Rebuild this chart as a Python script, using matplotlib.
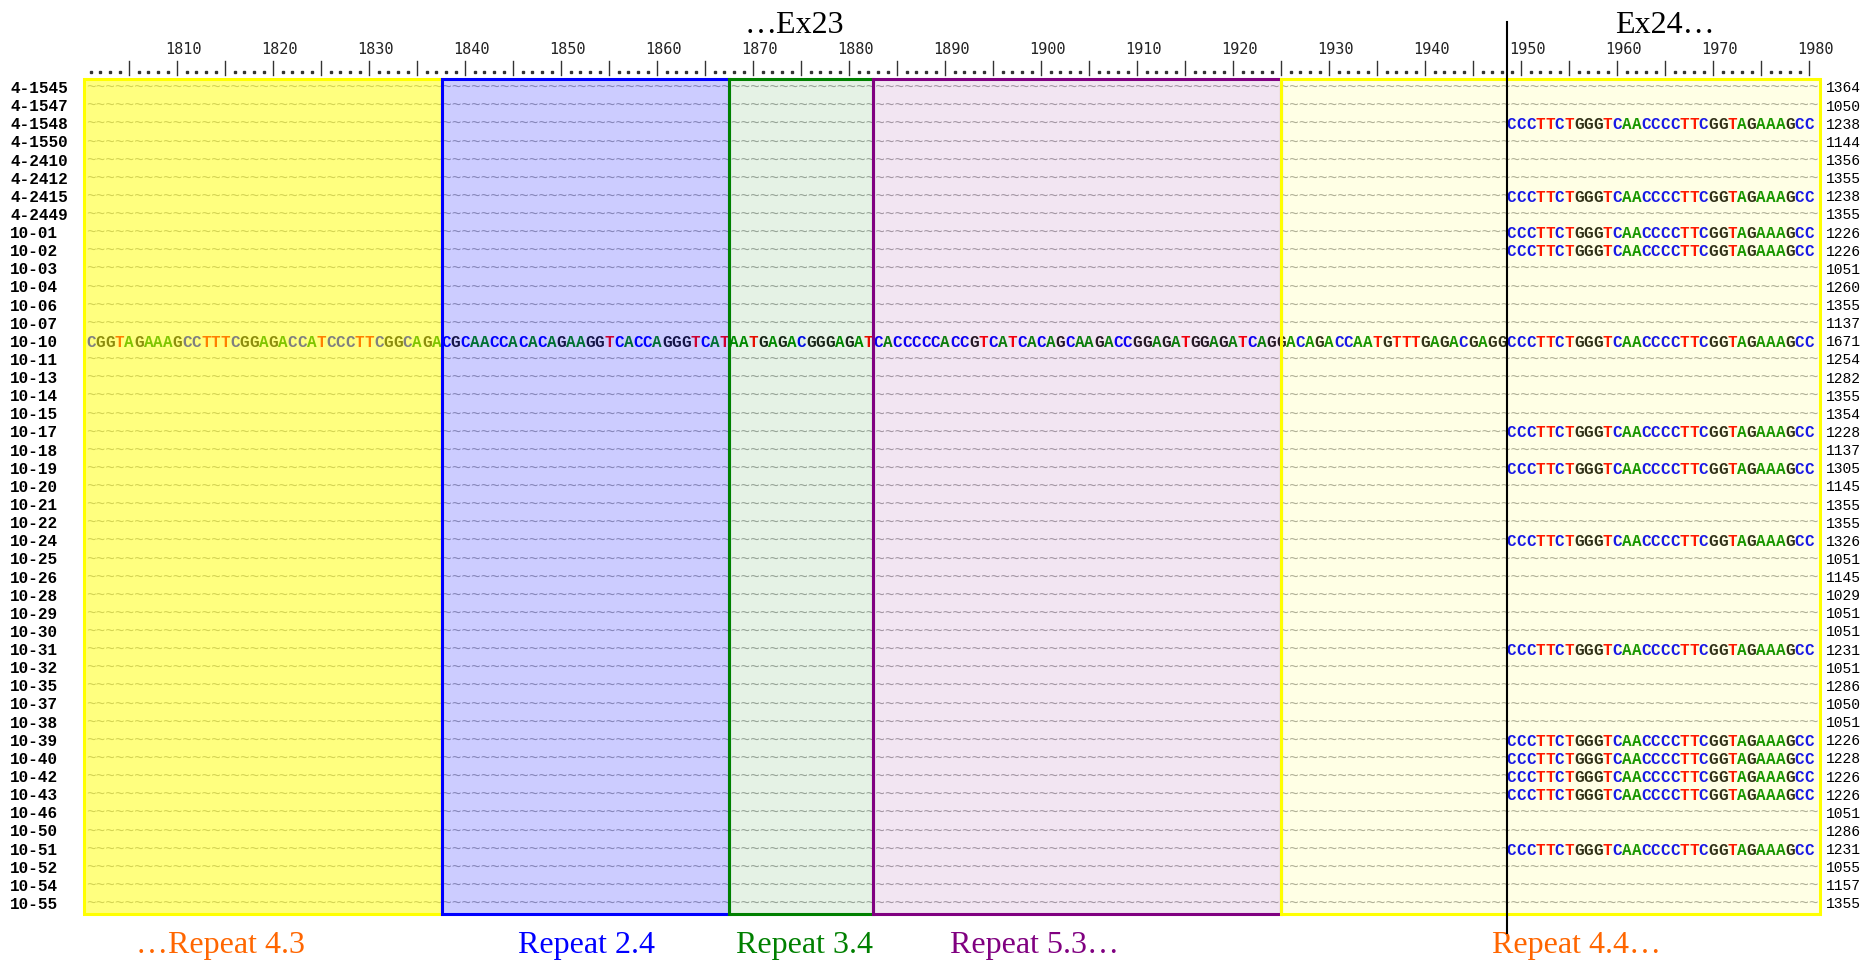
import matplotlib
matplotlib.use('Agg')
import matplotlib.pyplot as plt
from matplotlib.patches import Rectangle

# sample names (left) and read lengths (right)
names = ['4-1545', '4-1547', '4-1548', '4-1550', '4-2410', '4-2412', '4-2415', '4-2449',
         '10-01', '10-02', '10-03', '10-04', '10-06', '10-07', '10-10', '10-11', '10-13',
         '10-14', '10-15', '10-17', '10-18', '10-19', '10-20', '10-21', '10-22', '10-24',
         '10-25', '10-26', '10-28', '10-29', '10-30', '10-31', '10-32', '10-35', '10-37',
         '10-38', '10-39', '10-40', '10-42', '10-43', '10-46', '10-50', '10-51', '10-52',
         '10-54', '10-55']
lengths = [1364, 1050, 1238, 1144, 1356, 1355, 1238, 1355, 1226, 1226, 1051, 1260, 1355,
           1137, 1671, 1254, 1282, 1355, 1354, 1228, 1137, 1305, 1145, 1355, 1355, 1326,
           1051, 1145, 1029, 1051, 1051, 1231, 1051, 1286, 1050, 1051, 1226, 1228, 1226,
           1226, 1051, 1286, 1231, 1055, 1157, 1355]

# alignment window
seq_start = 1800
seq_end = 1979
full_row = '10-10'
full_seq = ("CGGTAGAAAGCCTTTCGGAGACCATCCCTTCGGCAGA"
            "CGCAACCACACAGAAGGTCACCAGGGTCAT"
            "AATGAGACGGGAGAT"
            "CACCCCCACCGTCATCACAGCAAGACCGGAGATGGAGATCAG"
            "G"
            "ACAGACCAATGTTTGAGACGAGG"
            "CCCTTCTGGGTCAACCCCTTCGGTAGAAAGCC")
ex24_start = 1948
ex24_seq = "CCCTTCTGGGTCAACCCCTTCGGTAGAAAGCC"
ex24_rows = ['4-1548', '4-2415', '10-01', '10-02', '10-17', '10-19', '10-24', '10-31',
             '10-39', '10-40', '10-42', '10-43', '10-51']

# repeat blocks (alignment positions)
repeat_edges = [1799.3, 1836.6, 1866.5, 1881.5, 1924.0, 1980.1]
repeat_labels = ['\u2026Repeat 4.3', 'Repeat 2.4', 'Repeat 3.4', 'Repeat 5.3\u2026', 'Repeat 4.4\u2026']
repeat_label_pos = [1813.5, 1851.6, 1874.3, 1898.3, 1954.8]
repeat_colors = ['#ffff00', '#0000ff', '#008000', '#800080', '#ffff00']
repeat_alpha = [0.5, 0.2, 0.1, 0.1, 0.1]
label_colors = ['#ff6600', '#0000ff', '#008000', '#800080', '#ff6600']
exon_boundary = 1947.5
exon_labels = ['\u2026Ex23', 'Ex24\u2026']
exon_label_pos = [1873.3, 1964.0]

ruler_labels = list(range(1810, 1981, 10))
base_colors = {'A': '#008c00', 'C': '#0000ff', 'G': '#1a1a1a', 'T': '#ff0000'}

mono = 'Liberation Mono'
serif = 'Liberation Serif'

fig = plt.figure(figsize=(18.76, 9.66), dpi=100)
ax = fig.add_axes([84 / 1876, 1 - 914 / 966, 1736 / 1876, 835 / 966])
ax.set_xlim(1799.29, 1980.125)
ax.set_ylim(45.61, -0.44)
ax.axis('off')

# sequences
for i, name in enumerate(names):
    if name == full_row:
        seq, first = full_seq, seq_start
        ngap = 0
    elif name in ex24_rows:
        seq, first = ex24_seq, ex24_start
        ngap = ex24_start - seq_start
    else:
        seq, first = '', seq_start
        ngap = seq_end - seq_start + 1
    if ngap:
        ax.text(seq_start - 0.5, i, '~' * ngap, ha='left', va='center_baseline',
                family=mono, size=11.52, color='#a8a8a8', zorder=2)
    for k, ch in enumerate(seq):
        ax.text(first + k, i, ch, ha='center', va='center_baseline', family=mono,
                weight='bold', size=11.5, color=base_colors[ch], zorder=2)
    ax.text(1791.6, i, name, ha='left', va='center_baseline', family=mono,
            weight='bold', size=11.5, color='black', clip_on=False)
    ax.text(1980.75, i, str(lengths[i]), ha='left', va='center_baseline', family=mono,
            size=10.5, color='black', clip_on=False)

# repeat blocks over the sequences
ytop, ybot = -0.44, 45.61
for j in range(len(repeat_labels)):
    x0, x1 = repeat_edges[j], repeat_edges[j + 1]
    ax.add_patch(Rectangle((x0, ytop), x1 - x0, ybot - ytop,
                           facecolor=matplotlib.colors.to_rgba(repeat_colors[j], repeat_alpha[j]),
                           edgecolor=repeat_colors[j], linewidth=2.2, zorder=3, clip_on=False))
    ax.text(repeat_label_pos[j], 47.77, repeat_labels[j], ha='center', va='baseline',
            family=serif, size=23, color=label_colors[j], clip_on=False)

# exon boundary
ax.plot([exon_boundary, exon_boundary], [-3.6, 46.66], color='black', lw=1.5,
        zorder=4, clip_on=False)
for lab, xp in zip(exon_labels, exon_label_pos):
    ax.text(xp, -2.98, lab, ha='center', va='baseline', family=serif, size=23,
            color='black', clip_on=False)

# ruler
for p in range(seq_start, seq_end + 1):
    if (p - 1804) % 5 == 0:
        ax.plot([p, p], [-1.43, -0.66], color='#333333', lw=1.0, clip_on=False)
    else:
        ax.plot(p, -0.83, marker='s', ms=1.6, color='#333333', clip_on=False)
for p in ruler_labels:
    ax.text(p - 0.35, -2.04, str(p), ha='center', va='center', family='DejaVu Sans Mono',
            size=11, color='#222222', clip_on=False)

fig.savefig('out.png', dpi=100)
